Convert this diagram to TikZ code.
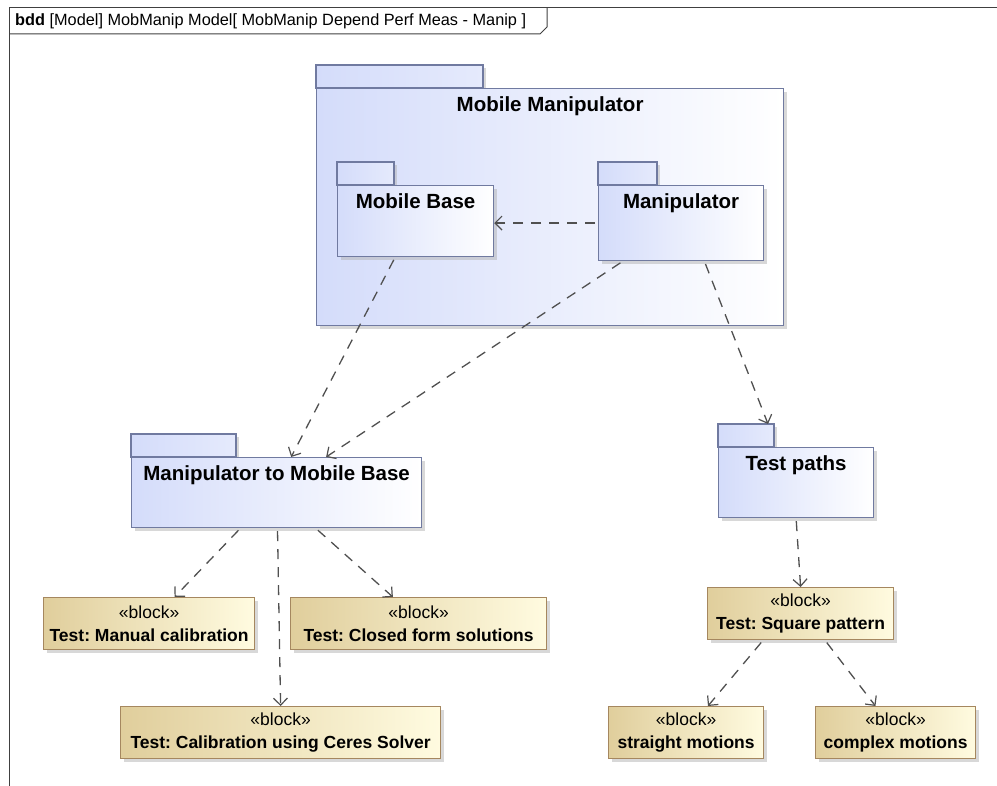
\documentclass[tikz,border=0pt]{standalone}
\usepackage{fontspec}
\setmainfont{Liberation Sans}
\usetikzlibrary{calc,arrows.meta,shadows}
\definecolor{pkgblue}{RGB}{212,220,250}
\definecolor{pkgline}{RGB}{112,122,160}
\definecolor{blktan}{RGB}{224,206,156}
\definecolor{blkcream}{RGB}{255,251,224}
\definecolor{blkline}{RGB}{165,135,95}
\definecolor{depgray}{RGB}{80,80,80}
\frenchspacing

\begin{document}
\begin{tikzpicture}[x=1pt,y=-1pt,
  pkg/.style={draw=pkgline,line width=1.2pt,left color=pkgblue,right color=white,
    anchor=north west,inner sep=0pt,
    drop shadow={shadow xshift=3pt,shadow yshift=-3pt,fill=black!30}},
  pkgtab/.style={draw=pkgline,line width=1.2pt,left color=pkgblue,right color=pkgblue!60!white,
    drop shadow={shadow xshift=3pt,shadow yshift=-3pt,fill=black!30}},
  pkgtitle/.style={anchor=north,yshift=-5pt,font=\bfseries\fontsize{20.5}{24}\selectfont},
  blk/.style={draw=blkline,line width=1.2pt,left color=blktan,right color=blkcream,
    anchor=north west,align=center,inner sep=2pt,minimum height=52,
    font=\fontsize{17.5}{23}\selectfont,
    drop shadow={shadow xshift=3pt,shadow yshift=-3pt,fill=black!30}},
  dep/.style={draw=depgray,line width=1.3pt,dash pattern=on 10pt off 8pt,shorten <=3pt,
    -{Straight Barb[length=7pt,width=14pt,line width=1.2pt]}}]
  \useasboundingbox (0,0) rectangle (997,786);

  % diagram frame
  \draw[line width=1pt,black!75] (9,786) -- (9,8) -- (997,8);
  \draw[line width=1pt,black!75] (9,34) -- (540,34) -- (547,27) -- (547,8);
  \node[anchor=west,inner sep=0pt,font=\fontsize{16.3}{19}\selectfont] (hdr) at (15,21)
    {\textbf{bdd} [Model] MobManip Model[ MobManip Depend Perf Meas - Manip ]};

  % packages
  \coordinate (mm) at (316,88);
  \draw[pkgtab] (mm) rectangle ++(167,-23);
  \node[pkg,minimum width=467,minimum height=237,
    label={[pkgtitle]north:Mobile Manipulator}] (mmpkg) at (mm) {};

  \coordinate (mb) at (337,185);
  \draw[pkgtab] (mb) rectangle ++(57,-23);
  \node[pkg,minimum width=156,minimum height=71,
    label={[pkgtitle]north:Mobile Base}] (mbpkg) at (mb) {};

  \coordinate (man) at (598,185);
  \draw[pkgtab] (man) rectangle ++(59,-23);
  \node[pkg,minimum width=165,minimum height=75,
    label={[pkgtitle]north:Manipulator}] (manpkg) at (man) {};

  \coordinate (mtmb) at (131,457);
  \draw[pkgtab] (mtmb) rectangle ++(105,-23);
  \node[pkg,minimum width=290,minimum height=70,
    label={[pkgtitle]north:Manipulator to Mobile Base}] (mtmbpkg) at (mtmb) {};

  \coordinate (tp) at (718,447);
  \draw[pkgtab] (tp) rectangle ++(56,-23) coordinate (tptab);
  \node[pkg,minimum width=155,minimum height=70,
    label={[pkgtitle]north:Test paths}] (tppkg) at (tp) {};

  % blocks
  \node[blk,minimum width=211] (manual) at (43,597) {«block»\\\textbf{Test: Manual calibration}};
  \node[blk,minimum width=256] (closed) at (290,597) {«block»\\\textbf{Test: Closed form solutions}};
  \node[blk,minimum width=320] (ceres) at (120,706) {«block»\\\textbf{Test: Calibration using Ceres Solver}};
  \node[blk,minimum width=186] (square) at (707,587) {«block»\\\textbf{Test: Square pattern}};
  \node[blk,minimum width=155] (straight) at (608,706) {«block»\\\textbf{straight motions}};
  \node[blk,minimum width=160] (complex) at (815,706) {«block»\\\textbf{complex motions}};

  % dependencies
  \draw[dep] (manpkg.west) -- (manpkg.west -| mbpkg.east);
  \draw[dep] ($(mbpkg.south west)!0.37!(mbpkg.south east)$) -- ($(mtmbpkg.north west)!0.55!(mtmbpkg.north east)$);
  \draw[dep] ($(manpkg.south west)!0.15!(manpkg.south east)$) -- ($(mtmbpkg.north west)!0.67!(mtmbpkg.north east)$);
  \draw[dep] ($(manpkg.south west)!0.64!(manpkg.south east)$) -- ($(tptab)+(-6,0)$);
  \draw[dep] ($(mtmbpkg.south west)!0.376!(mtmbpkg.south east)$) -- ($(manual.north west)!0.62!(manual.north east)$);
  \draw[dep] ($(mtmbpkg.south west)!0.503!(mtmbpkg.south east)$) -- ($(ceres.north west)!0.5!(ceres.north east)$);
  \draw[dep] ($(mtmbpkg.south west)!0.634!(mtmbpkg.south east)$) -- ($(closed.north west)!0.4!(closed.north east)$);
  \draw[dep] (tppkg.south) -- (square.north);
  \draw[dep] ($(square.south west)!0.3!(square.south east)$) -- ($(straight.north west)!0.64!(straight.north east)$);
  \draw[dep] ($(square.south west)!0.63!(square.south east)$) -- ($(complex.north west)!0.375!(complex.north east)$);
\end{tikzpicture}
\end{document}
